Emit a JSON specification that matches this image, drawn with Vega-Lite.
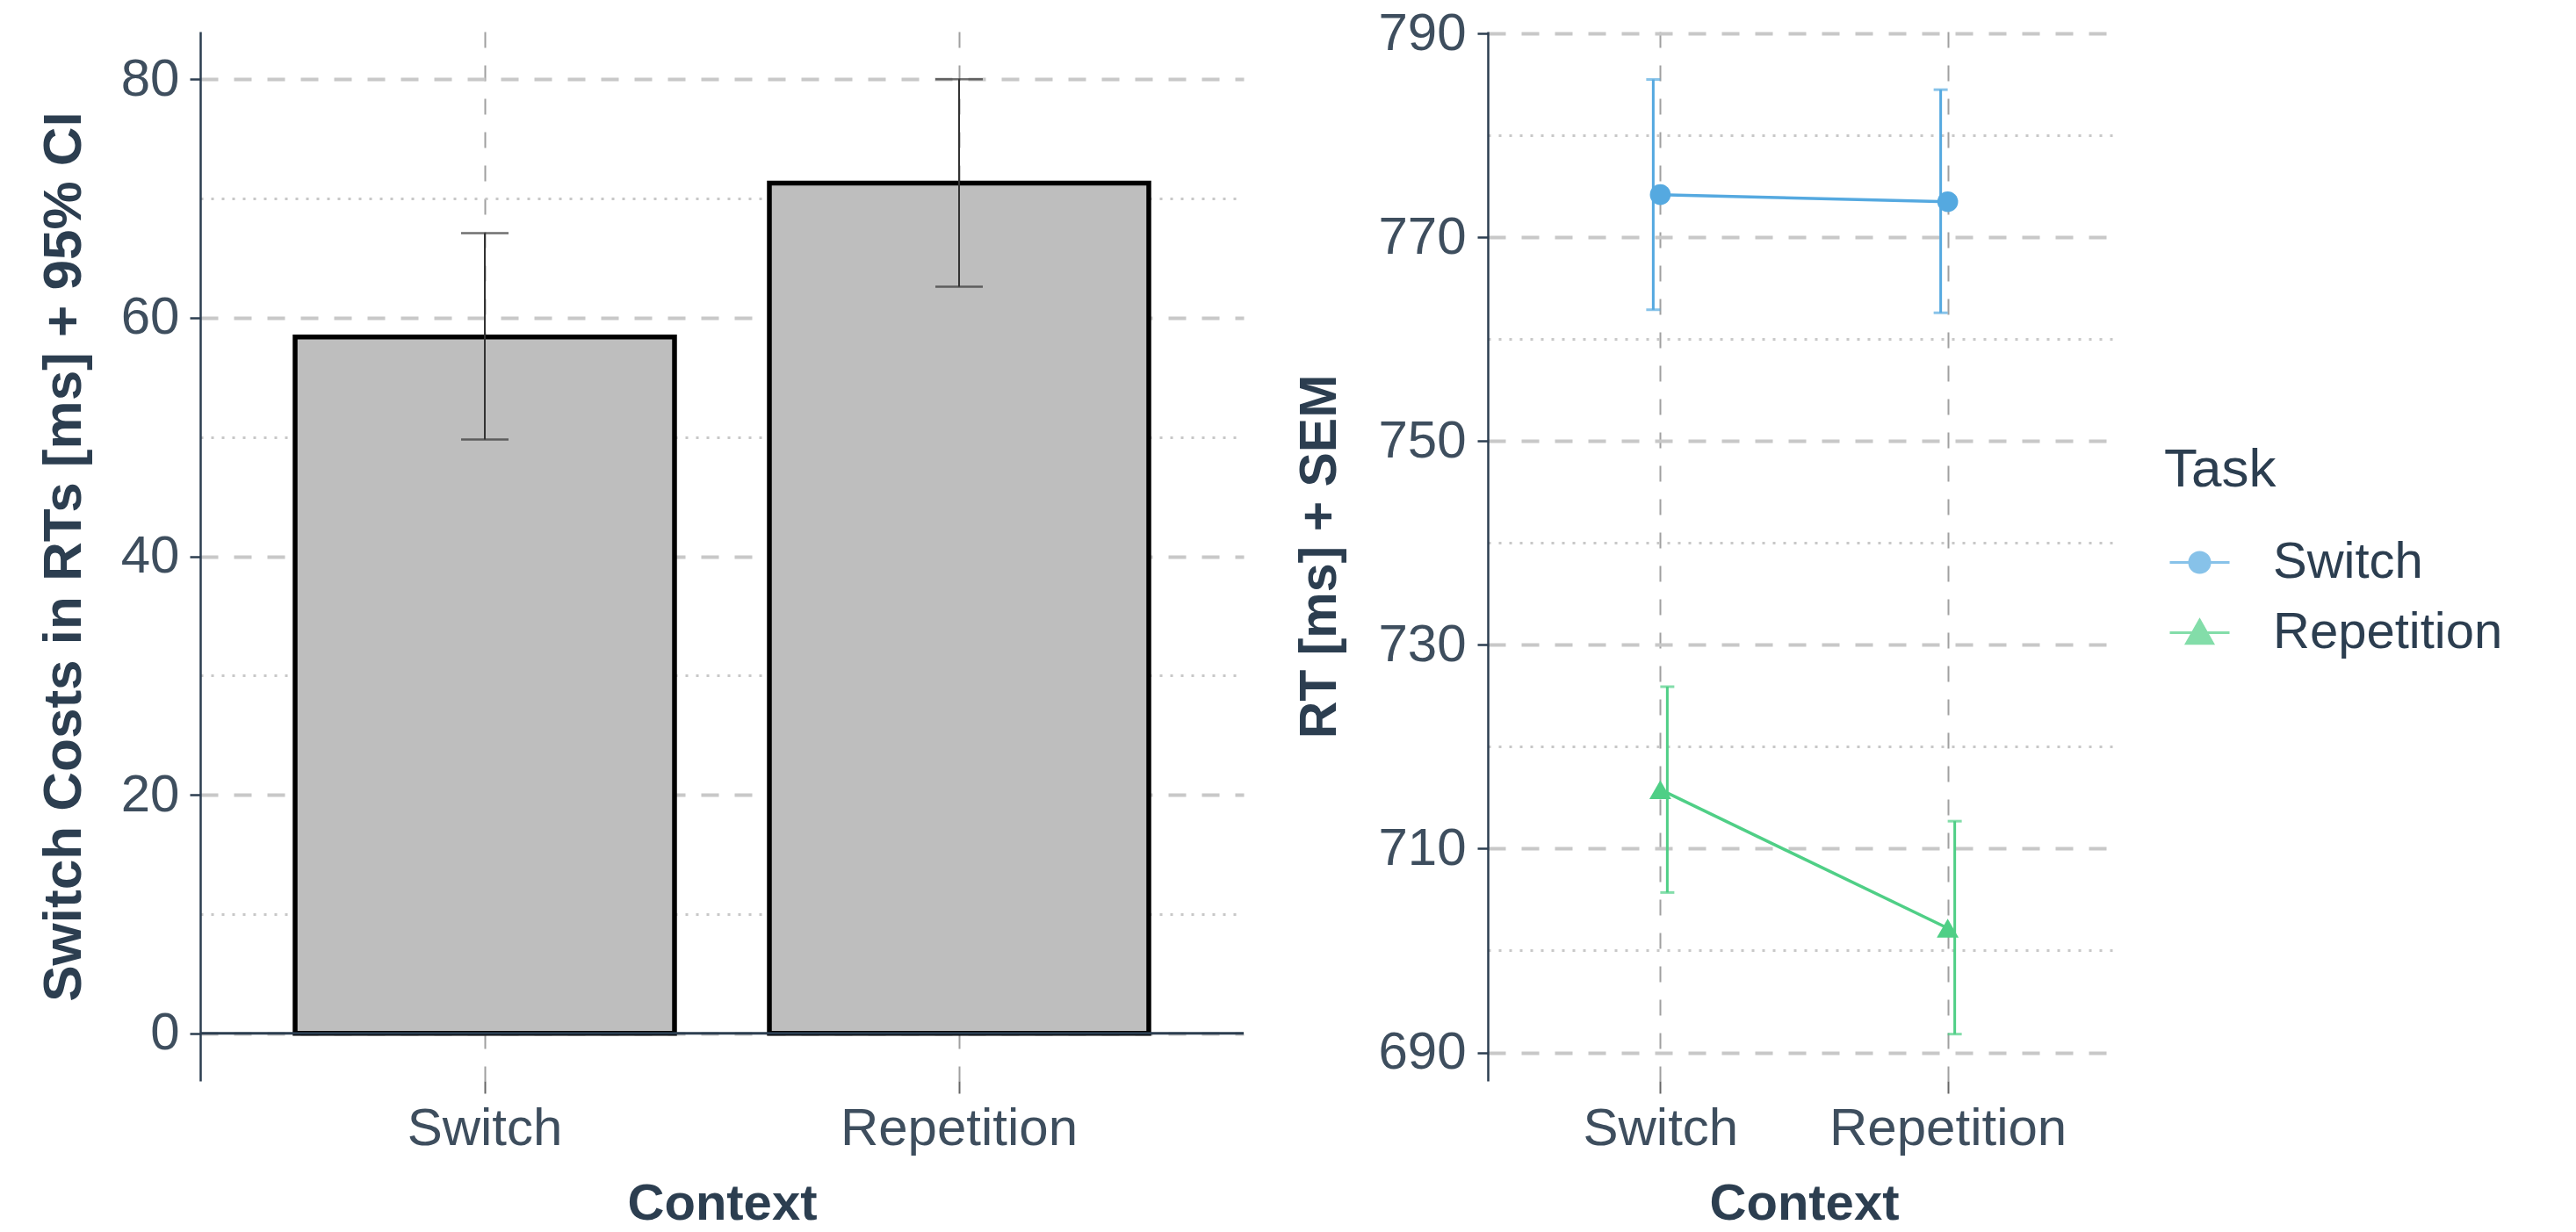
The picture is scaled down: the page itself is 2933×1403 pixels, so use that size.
{
  "$schema": "https://vega.github.io/schema/vega-lite/v6.json",
  "background": "white",
  "padding": {"left": 41, "top": 8, "right": 0, "bottom": 0},
  "spacing": 55,
  "datasets": {
    "costs": [
      {"Context": "Switch", "mean": 58.4, "lo": 49.8, "hi": 67.1},
      {"Context": "Repetition", "mean": 71.3, "lo": 62.6, "hi": 80.0}
    ],
    "rt": [
      {"Task": "Switch", "Context": "Switch", "mean": 774.2, "lo": 762.9, "hi": 785.5},
      {"Task": "Switch", "Context": "Repetition", "mean": 773.5, "lo": 762.6, "hi": 784.5},
      {"Task": "Repetition", "Context": "Switch", "mean": 715.8, "lo": 705.7, "hi": 725.9},
      {"Task": "Repetition", "Context": "Repetition", "mean": 702.2, "lo": 691.8, "hi": 712.7}
    ]
  },
  "config": {
    "view": {"stroke": null},
    "font": "Liberation Sans",
    "axis": {
      "labelFont": "Liberation Sans",
      "labelFontSize": 60,
      "labelColor": "#3E4E5E",
      "labelLimit": 1000,
      "titleFont": "Liberation Sans",
      "titleFontSize": 58,
      "titleFontWeight": "bold",
      "titleColor": "#2C3E50",
      "domainColor": "#2C3E50",
      "domainWidth": 2.5,
      "tickColor": "#2C3E50",
      "tickWidth": 2.5,
      "tickSize": 12
    },
    "axisX": {
      "domain": false,
      "grid": true,
      "gridColor": "#A0A0A0",
      "gridWidth": 2,
      "gridDash": [18, 20],
      "tickSize": 14,
      "tickColor": "#666666",
      "tickWidth": 2,
      "labelPadding": 11,
      "titlePadding": 27,
      "labelAngle": 0
    },
    "axisY": {
      "labelPadding": 12,
      "titlePadding": 40
    }
  },
  "hconcat": [
    {
      "width": 1188,
      "height": 1195,
      "data": {"name": "costs"},
      "layer": [
        {
          "mark": {"type": "bar", "fill": "#BEBEBE", "stroke": "black", "strokeWidth": 5.5},
          "encoding": {
            "x": {
              "field": "Context", "type": "nominal", "sort": ["Switch", "Repetition"],
              "scale": {"domain": ["Switch", "Repetition"], "paddingInner": 0.2, "paddingOuter": 0.2},
              "axis": {"title": "Context"}
            },
            "y": {
              "field": "mean", "type": "quantitative",
              "scale": {"domain": [-4, 84], "nice": false, "zero": false},
              "axis": {
                "title": "Switch Costs in RTs [ms] + 95% CI",
                "titleFontSize": 62,
                "titlePadding": 33,
                "values": [0, 10, 20, 30, 40, 50, 60, 70, 80],
                "grid": true,
                "labelExpr": "datum.value % 20 === 0 ? datum.label : ''",
                "gridDash": {"condition": {"test": "datum.value % 20 === 0", "value": [20, 18]}, "value": [3, 9]},
                "gridColor": "#C8C8C8",
                "gridWidth": {"condition": {"test": "datum.value % 20 === 0", "value": 4}, "value": 3},
                "tickOpacity": {"condition": {"test": "datum.value % 20 === 0", "value": 1}, "value": 0}
              }
            }
          }
        },
        {
          "data": {"values": [{}]},
          "mark": {"type": "rule", "color": "#2C3E50", "strokeWidth": 3},
          "encoding": {"y": {"datum": 0, "type": "quantitative"}}
        },
        {
          "mark": {"type": "rule", "color": "#333333", "strokeWidth": 2},
          "encoding": {
            "x": {"field": "Context", "type": "nominal", "sort": ["Switch", "Repetition"]},
            "y": {"field": "lo", "type": "quantitative"},
            "y2": {"field": "hi"}
          }
        },
        {
          "mark": {"type": "tick", "color": "#333333", "size": 54, "thickness": 2.5},
          "encoding": {
            "x": {"field": "Context", "type": "nominal", "sort": ["Switch", "Repetition"]},
            "y": {"field": "lo", "type": "quantitative"}
          }
        },
        {
          "mark": {"type": "tick", "color": "#333333", "size": 54, "thickness": 2.5},
          "encoding": {
            "x": {"field": "Context", "type": "nominal", "sort": ["Switch", "Repetition"]},
            "y": {"field": "hi", "type": "quantitative"}
          }
        }
      ]
    },
    {
      "width": 720,
      "height": 1195,
      "data": {"name": "rt"},
      "layer": [
        {
          "mark": {"type": "line", "strokeWidth": 3.5},
          "encoding": {
            "x": {
              "field": "Context", "type": "nominal", "sort": ["Switch", "Repetition"],
              "scale": {"type": "point", "domain": ["Switch", "Repetition"], "padding": 0.6},
              "axis": {"title": "Context"}
            },
            "y": {
              "field": "mean", "type": "quantitative",
              "scale": {"domain": [687.2, 790.2], "nice": false, "zero": false},
              "axis": {
                "title": "RT [ms] + SEM",
                "titleFontSize": 59,
                "titlePadding": 36,
                "labelPadding": 13,
                "values": [690, 700, 710, 720, 730, 740, 750, 760, 770, 780, 790],
                "grid": true,
                "labelExpr": "(datum.value - 690) % 20 === 0 ? datum.label : ''",
                "gridDash": {"condition": {"test": "(datum.value - 690) % 20 === 0", "value": [20, 18]}, "value": [3, 9]},
                "gridColor": "#C8C8C8",
                "gridWidth": {"condition": {"test": "(datum.value - 690) % 20 === 0", "value": 4}, "value": 3},
                "tickOpacity": {"condition": {"test": "(datum.value - 690) % 20 === 0", "value": 1}, "value": 0}
              }
            },
            "color": {
              "field": "Task", "type": "nominal",
              "scale": {"domain": ["Switch", "Repetition"], "range": ["#55A9E0", "#4FCF86"]},
              "legend": {
                "orient": "none",
                "legendX": 2236,
                "legendY": 469,
                "title": "Task",
                "titleFont": "Liberation Sans",
                "titleFontSize": 62,
                "titleFontWeight": "normal",
                "titleColor": "#2C3E50",
                "titlePadding": 38,
                "labelFont": "Liberation Sans",
                "labelFontSize": 58,
                "labelColor": "#2C3E50",
                "labelLimit": 1000,
                "labelOffset": 48,
                "symbolSize": 4624,
                "symbolOffset": 5,
                "symbolStrokeWidth": 3,
                "symbolOpacity": 1,
                "symbolType": {"expr": "datum.value === 'Switch' ? 'M-1,0L1,0M0.34,0A0.34,0.34,0,1,1,-0.34,0A0.34,0.34,0,1,1,0.34,0Z' : 'M-1,0L1,0M0,-0.42L0.44,0.36L-0.44,0.36Z'"},
                "rowPadding": 15,
                "padding": 0
              }
            }
          }
        },
        {
          "transform": [{"filter": "datum.Task === 'Switch'"}],
          "layer": [
            {
              "mark": {"type": "rule", "strokeWidth": 3, "xOffset": -8},
              "encoding": {
                "x": {"field": "Context", "type": "nominal", "sort": ["Switch", "Repetition"]},
                "y": {"field": "lo", "type": "quantitative"},
                "y2": {"field": "hi"},
                "color": {"field": "Task", "type": "nominal"}
              }
            },
            {
              "mark": {"type": "tick", "size": 16, "thickness": 3, "xOffset": -8},
              "encoding": {
                "x": {"field": "Context", "type": "nominal", "sort": ["Switch", "Repetition"]},
                "y": {"field": "lo", "type": "quantitative"},
                "color": {"field": "Task", "type": "nominal"}
              }
            },
            {
              "mark": {"type": "tick", "size": 16, "thickness": 3, "xOffset": -8},
              "encoding": {
                "x": {"field": "Context", "type": "nominal", "sort": ["Switch", "Repetition"]},
                "y": {"field": "hi", "type": "quantitative"},
                "color": {"field": "Task", "type": "nominal"}
              }
            },
            {
              "mark": {"type": "point", "filled": true, "size": 560, "opacity": 1, "shape": "circle"},
              "encoding": {
                "x": {"field": "Context", "type": "nominal", "sort": ["Switch", "Repetition"]},
                "y": {"field": "mean", "type": "quantitative"},
                "color": {"field": "Task", "type": "nominal"}
              }
            }
          ]
        },
        {
          "transform": [{"filter": "datum.Task === 'Repetition'"}],
          "layer": [
            {
              "mark": {"type": "rule", "strokeWidth": 3, "xOffset": 8},
              "encoding": {
                "x": {"field": "Context", "type": "nominal", "sort": ["Switch", "Repetition"]},
                "y": {"field": "lo", "type": "quantitative"},
                "y2": {"field": "hi"},
                "color": {"field": "Task", "type": "nominal"}
              }
            },
            {
              "mark": {"type": "tick", "size": 16, "thickness": 3, "xOffset": 8},
              "encoding": {
                "x": {"field": "Context", "type": "nominal", "sort": ["Switch", "Repetition"]},
                "y": {"field": "lo", "type": "quantitative"},
                "color": {"field": "Task", "type": "nominal"}
              }
            },
            {
              "mark": {"type": "tick", "size": 16, "thickness": 3, "xOffset": 8},
              "encoding": {
                "x": {"field": "Context", "type": "nominal", "sort": ["Switch", "Repetition"]},
                "y": {"field": "hi", "type": "quantitative"},
                "color": {"field": "Task", "type": "nominal"}
              }
            },
            {
              "mark": {"type": "point", "filled": true, "size": 620, "opacity": 1, "shape": "triangle-up"},
              "encoding": {
                "x": {"field": "Context", "type": "nominal", "sort": ["Switch", "Repetition"]},
                "y": {"field": "mean", "type": "quantitative"},
                "color": {"field": "Task", "type": "nominal"}
              }
            }
          ]
        }
      ]
    }
  ]
}
